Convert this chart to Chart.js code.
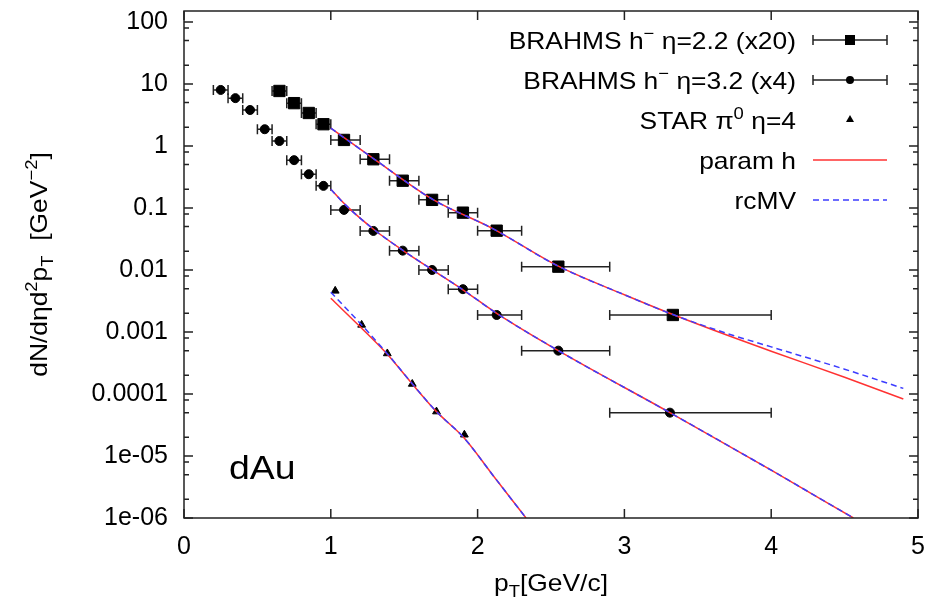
<!DOCTYPE html>
<html>
<head>
<meta charset="utf-8">
<script src="https://cdn.jsdelivr.net/npm/chart.js@4.4.1/dist/chart.umd.min.js"></script>
<style>
  html, body { margin: 0; padding: 0; background: #fff; }
</style>
</head>
<body>
<canvas id="spectra" width="927" height="602"></canvas>
<script>
// axis ticks
const xTicks = [0, 1, 2, 3, 4, 5];
const yTickValues = [1e-6, 1e-5, 1e-4, 1e-3, 1e-2, 0.1, 1, 10, 100];
const yTickLabels = ['1e-06', '1e-05', '0.0001', '0.001', '0.01', '0.1', '1', '10', '100'];
const yMinorSteps = [2, 5, 8];

// BRAHMS h- eta=2.2 (x20)
const b22X  = [0.65, 0.75, 0.85, 0.95, 1.09, 1.29, 1.49, 1.69, 1.9, 2.13, 2.55, 3.33];
const b22Lo = [0.6, 0.7, 0.8, 0.9, 1.0, 1.2, 1.4, 1.6, 1.8, 2.0, 2.3, 2.9];
const b22Hi = [0.7, 0.8, 0.9, 1.0, 1.2, 1.4, 1.6, 1.8, 2.0, 2.3, 2.9, 4.0];
const b22Y  = [7.7, 4.9, 3.4, 2.24, 1.25, 0.61, 0.275, 0.135, 0.084, 0.043, 0.0113, 0.00188];

// BRAHMS h- eta=3.2 (x4)
const b32X  = [0.25, 0.35, 0.45, 0.55, 0.65, 0.75, 0.85, 0.95, 1.09, 1.29, 1.49, 1.69, 1.9, 2.13, 2.55, 3.31];
const b32Lo = [0.2, 0.3, 0.4, 0.5, 0.6, 0.7, 0.8, 0.9, 1.0, 1.2, 1.4, 1.6, 1.8, 2.0, 2.3, 2.9];
const b32Hi = [0.3, 0.4, 0.5, 0.6, 0.7, 0.8, 0.9, 1.0, 1.2, 1.4, 1.6, 1.8, 2.0, 2.3, 2.9, 4.0];
const b32Y  = [8.0, 5.9, 3.8, 1.86, 1.2, 0.59, 0.35, 0.227, 0.093, 0.0426, 0.0205, 0.01, 0.0049, 0.00188, 0.0005, 5.0e-5];

// STAR pi0 eta=4
const starX = [1.03, 1.21, 1.385, 1.555, 1.72, 1.91];
const starY = [4.6e-3, 1.3e-3, 4.5e-4, 1.45e-4, 5.2e-5, 2.2e-5];

// curves, eta=2.2
const curve22X = [1.0, 1.3, 1.7, 2.1, 2.55, 3.0, 3.33, 3.72, 4.0, 4.5, 4.9];
const param22Y = [1.93, 0.603, 0.135, 0.0468, 0.0115, 0.00398, 0.00191, 8.51e-4, 4.9e-4, 1.86e-4, 8.32e-5];
const rcmv22Y  = [1.93, 0.603, 0.135, 0.0468, 0.0115, 0.00398, 0.00191, 9.12e-4, 5.75e-4, 2.51e-4, 1.23e-4];

// curves, eta=3.2
const curve32X = [1.0, 1.1, 1.3, 1.5, 1.7, 1.9, 2.13, 2.55, 3.31, 4.0, 4.56];
const param32Y = [0.2, 0.112, 0.0437, 0.02, 0.00977, 0.00479, 0.002, 5.0e-4, 5.0e-5, 5.9e-6, 1.0e-6];
const rcmv32Y  = [0.2, 0.112, 0.0437, 0.02, 0.00977, 0.00479, 0.002, 5.0e-4, 5.0e-5, 5.9e-6, 1.0e-6];

// curves, eta=4
const curve4X  = [1.0, 1.21, 1.385, 1.555, 1.72, 1.91, 2.1, 2.33];
const param4Y  = [3.5e-3, 1.15e-3, 4.37e-4, 1.45e-4, 5.19e-5, 1.93e-5, 5.04e-6, 1.0e-6];
const rcmv4Y   = [4.37e-3, 1.3e-3, 4.47e-4, 1.46e-4, 5.19e-5, 1.93e-5, 5.04e-6, 1.0e-6];

const FONT = '"Liberation Sans", Arial, sans-serif';
const RED = 'rgb(255,50,50)';
const BLUE = 'rgb(60,60,255)';
const INK = '#222';
const STRETCH = 1.1;   // reference text is a bit wide

const toPts = (xs, ys) => xs.map((x, i) => ({ x: x, y: ys[i] }));

function curve(label, xs, ys, color, dashed) {
  return {
    label: label,
    data: toPts(xs, ys),
    showLine: true,
    borderColor: color,
    borderWidth: 1.5,
    borderDash: dashed ? [6, 4] : [],
    pointRadius: 0,
    cubicInterpolationMode: 'monotone',
    order: dashed ? 0 : 1
  };
}

function markers(label, xs, ys, style, r) {
  return {
    label: label,
    data: toPts(xs, ys),
    showLine: false,
    pointStyle: style,
    pointRadius: r,
    pointBackgroundColor: '#000',
    pointBorderColor: '#000',
    pointBorderWidth: 1,
    order: 2
  };
}

// text with super/subscripts: parts = [[text, mode]], mode 1 sup, -1 sub
function richWidth(ctx, parts, size) {
  let w = 0;
  parts.forEach(([t, m]) => {
    ctx.font = (m ? size * 0.7 : size) + 'px ' + FONT;
    w += ctx.measureText(t).width;
  });
  return w * STRETCH;
}

function drawRich(ctx, parts, x, y, size, align) {
  const w = richWidth(ctx, parts, size);
  const x0 = align === 'right' ? x - w : align === 'center' ? x - w / 2 : x;
  ctx.save();
  ctx.translate(x0, y);
  ctx.scale(STRETCH, 1);
  ctx.textAlign = 'left';
  ctx.textBaseline = 'alphabetic';
  let cx = 0;
  parts.forEach(([t, m]) => {
    ctx.font = (m ? size * 0.7 : size) + 'px ' + FONT;
    const dy = m === 1 ? -size * 0.4 : m === -1 ? size * 0.25 : 0;
    ctx.fillText(t, cx, dy);
    cx += ctx.measureText(t).width;
  });
  ctx.restore();
}

function errorBar(ctx, x1, x2, y, cap) {
  ctx.beginPath();
  ctx.moveTo(x1, y); ctx.lineTo(x2, y);
  ctx.moveTo(x1, y - cap); ctx.lineTo(x1, y + cap);
  ctx.moveTo(x2, y - cap); ctx.lineTo(x2, y + cap);
  ctx.stroke();
}

const gnuplotLook = {
  id: 'gnuplotLook',
  beforeDatasetsDraw(chart) {
    const { ctx, scales: { x, y }, chartArea: a } = chart;
    ctx.save();
    ctx.beginPath();
    ctx.rect(a.left, a.top, a.right - a.left, a.bottom - a.top);
    ctx.clip();
    ctx.strokeStyle = INK;
    ctx.lineWidth = 1.5;
    [[b22Lo, b22Hi, b22Y], [b32Lo, b32Hi, b32Y]].forEach(([lo, hi, ys]) => {
      ys.forEach((v, i) => {
        errorBar(ctx, x.getPixelForValue(lo[i]), x.getPixelForValue(hi[i]), y.getPixelForValue(v), 5);
      });
    });
    ctx.restore();
  },
  afterDraw(chart) {
    const { ctx, scales: { x, y }, chartArea: a } = chart;
    ctx.save();
    ctx.strokeStyle = INK;
    ctx.lineWidth = 1.5;
    ctx.strokeRect(a.left, a.top, a.right - a.left, a.bottom - a.top);

    ctx.beginPath();
    xTicks.forEach(v => {
      const px = x.getPixelForValue(v);
      ctx.moveTo(px, a.bottom); ctx.lineTo(px, a.bottom - 9);
      ctx.moveTo(px, a.top); ctx.lineTo(px, a.top + 9);
    });
    yTickValues.forEach(v => {
      const py = y.getPixelForValue(v);
      ctx.moveTo(a.left, py); ctx.lineTo(a.left + 9, py);
      ctx.moveTo(a.right, py); ctx.lineTo(a.right - 9, py);
      yMinorSteps.forEach(m => {
        const mv = v * m;
        if (mv > y.max) return;
        const mp = y.getPixelForValue(mv);
        ctx.moveTo(a.left, mp); ctx.lineTo(a.left + 5, mp);
        ctx.moveTo(a.right, mp); ctx.lineTo(a.right - 5, mp);
      });
    });
    ctx.stroke();

    // axis titles
    ctx.fillStyle = '#000';
    drawRich(ctx, [['p', 0], ['T', -1], ['[GeV/c]', 0]], (a.left + a.right) / 2, 591, 24, 'center');
    ctx.save();
    ctx.translate(47, (a.top + a.bottom) / 2);
    ctx.rotate(-Math.PI / 2);
    drawRich(ctx, [['dN/d\u03b7d', 0], ['2', 1], ['p', 0], ['T', -1], ['  [GeV', 0], ['\u22122', 1], [']', 0]], 0, 0, 24, 'center');
    ctx.restore();

    // label
    drawRich(ctx, [['dAu', 0]], 229, 479, 34, 'left');

    // key
    const textRight = 796, s1 = 813, s2 = 887, sm = 850;
    const rows = [40, 80, 120, 160, 200];
    drawRich(ctx, [['BRAHMS h', 0], ['\u2212', 1], [' \u03b7=2.2 (x20)', 0]], textRight, rows[0] + 9, 24, 'right');
    drawRich(ctx, [['BRAHMS h', 0], ['\u2212', 1], [' \u03b7=3.2 (x4)', 0]], textRight, rows[1] + 9, 24, 'right');
    drawRich(ctx, [['STAR \u03c0', 0], ['0', 1], [' \u03b7=4', 0]], textRight, rows[2] + 9, 24, 'right');
    drawRich(ctx, [['param h', 0]], textRight, rows[3] + 9, 24, 'right');
    drawRich(ctx, [['rcMV', 0]], textRight, rows[4] + 9, 24, 'right');

    ctx.strokeStyle = INK;
    ctx.lineWidth = 1.5;
    errorBar(ctx, s1, s2, rows[0], 5);
    errorBar(ctx, s1, s2, rows[1], 5);
    ctx.fillStyle = '#000';
    ctx.fillRect(sm - 5, rows[0] - 5, 10, 10);
    ctx.beginPath(); ctx.arc(sm, rows[1], 4, 0, Math.PI * 2); ctx.fill();
    ctx.beginPath();
    ctx.moveTo(sm, rows[2] - 5); ctx.lineTo(sm + 4, rows[2] + 2); ctx.lineTo(sm - 4, rows[2] + 2);
    ctx.closePath(); ctx.fill();

    ctx.lineWidth = 1.5;
    ctx.strokeStyle = RED;
    ctx.beginPath(); ctx.moveTo(s1, rows[3]); ctx.lineTo(s2, rows[3]); ctx.stroke();
    ctx.strokeStyle = BLUE;
    ctx.setLineDash([6, 4]);
    ctx.beginPath(); ctx.moveTo(s1, rows[4]); ctx.lineTo(s2, rows[4]); ctx.stroke();
    ctx.restore();
  }
};

new Chart(document.getElementById('spectra'), {
  type: 'scatter',
  data: {
    datasets: [
      curve('rcMV', curve22X, rcmv22Y, BLUE, true),
      curve('rcMV', curve32X, rcmv32Y, BLUE, true),
      curve('rcMV', curve4X, rcmv4Y, BLUE, true),
      curve('param h', curve22X, param22Y, RED, false),
      curve('param h', curve32X, param32Y, RED, false),
      curve('param h', curve4X, param4Y, RED, false),
      markers('BRAHMS h- eta=2.2 (x20)', b22X, b22Y, 'rect', 8),
      markers('BRAHMS h- eta=3.2 (x4)', b32X, b32Y, 'circle', 4.5),
      markers('STAR pi0 eta=4', starX, starY, 'triangle', 4.5)
    ]
  },
  options: {
    responsive: false,
    animation: false,
    devicePixelRatio: 1,
    layout: { padding: { left: 0, right: 9, top: 11, bottom: 0 } },
    plugins: { legend: { display: false }, tooltip: { enabled: false } },
    scales: {
      x: {
        type: 'linear',
        min: 0,
        max: 5,
        grid: { display: false, drawTicks: false },
        border: { display: false },
        ticks: { stepSize: 1, color: '#000', font: { family: FONT, size: 25 }, padding: 14 },
        afterFit(s) { s.height = 84; s.paddingLeft = 0; s.paddingRight = 0; }
      },
      y: {
        type: 'logarithmic',
        min: 1e-6,
        max: 150,
        grid: { display: false, drawTicks: false },
        border: { display: false },
        afterBuildTicks(s) { s.ticks = yTickValues.map(v => ({ value: v })); },
        ticks: {
          autoSkip: false,
          color: '#000',
          font: { family: FONT, size: 25 },
          padding: 16,
          callback: v => yTickLabels[yTickValues.indexOf(v)]
        },
        afterFit(s) { s.width = 184; s.paddingTop = 0; s.paddingBottom = 0; }
      }
    }
  },
  plugins: [gnuplotLook]
});
</script>
</body>
</html>
